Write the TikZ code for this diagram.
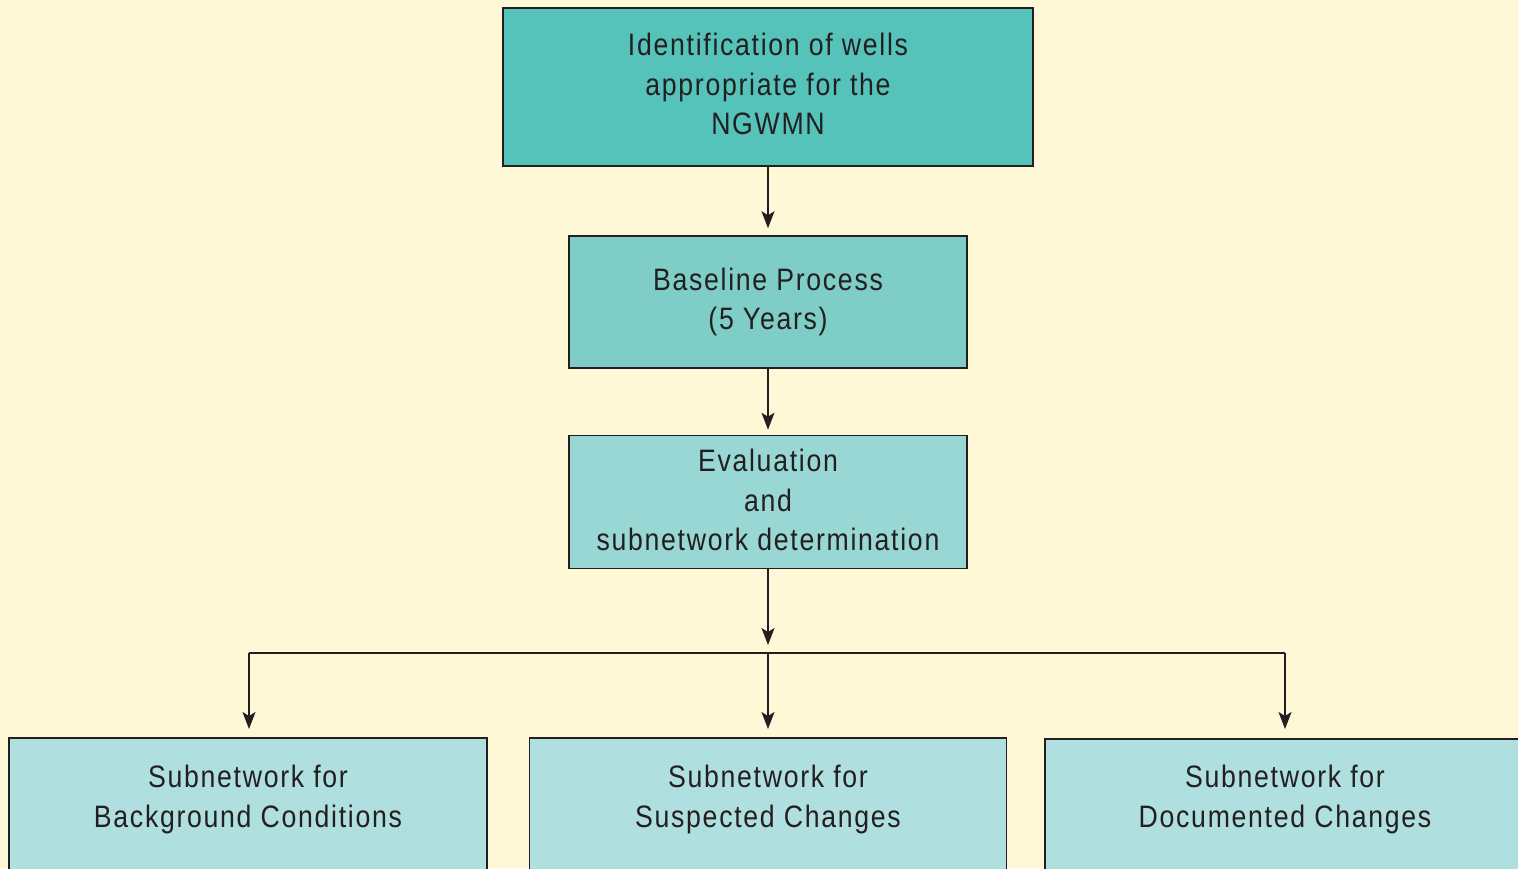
\documentclass[tikz,border=0pt]{standalone}
\usepackage{fontspec}
\setmainfont{Liberation Sans}[FakeStretch=0.86,LetterSpace=5.5]
\usetikzlibrary{positioning,arrows.meta}
\definecolor{paper}{HTML}{FFF8D6}
\definecolor{inkgray}{HTML}{231F20}
\definecolor{tealA}{HTML}{55C3BA}
\definecolor{tealB}{HTML}{7ECDC6}
\definecolor{tealC}{HTML}{98D7D3}
\definecolor{tealD}{HTML}{B0DFDF}
\tikzset{
  flowbox/.style={draw=inkgray, line width=1.6pt, align=center, text=inkgray,
    font=\fontsize{31}{39.5}\selectfont, inner sep=0pt},
  subtext/.style={align=center, text=inkgray, font=\fontsize{31}{39.5}\selectfont, inner sep=0pt},
  flowarrow/.style={draw=inkgray, line width=1.4pt, -{Stealth[length=17pt,width=13pt,inset=4pt]}},
  flowline/.style={draw=inkgray, line width=1.4pt}
}
\begin{document}
\begin{tikzpicture}[x=1pt,y=-1pt]
\useasboundingbox[fill=paper] (0,0) rectangle (1518,868);
\clip (0,0) rectangle (1518,868);
% process boxes
\node[flowbox, fill=tealA, minimum width=530pt, minimum height=158pt] (wells) at (768,87)
  {Identification of wells\\appropriate for the\\NGWMN\rule[-6pt]{0pt}{0pt}};
\node[flowbox, fill=tealB, minimum width=398pt, minimum height=132pt] (baseline) at (768,302)
  {Baseline Process\\(5 Years)};
\node[flowbox, fill=tealC, minimum width=398pt, minimum height=133pt] (evaluation) at (768,502)
  {Evaluation\\and\\subnetwork determination\rule[-4pt]{0pt}{0pt}};
% subnetwork boxes (run off the bottom edge)
\node[flowbox, fill=tealD, minimum width=478pt, minimum height=180pt, anchor=north] (background) at (248,737) {};
\node[flowbox, fill=tealD, minimum width=477pt, minimum height=180pt, anchor=north] (suspected) at (768,737) {};
\node[flowbox, fill=tealD, minimum width=480pt, minimum height=180pt, anchor=north] (documented) at (1285,738) {};
\node[subtext, below=28pt of background.north] {Subnetwork for\\Background Conditions};
\node[subtext, below=28pt of suspected.north] {Subnetwork for\\Suspected Changes};
\node[subtext, below=27pt of documented.north] {Subnetwork for\\Documented Changes};
% connectors
\coordinate (split) at (768,653);
\coordinate (splitleft) at (249,653);
\coordinate (splitright) at (1285,653);
\draw[flowarrow, shorten >=7pt] (wells.south) -- (baseline.north);
\draw[flowarrow, shorten >=5pt] (baseline.south) -- (evaluation.north);
\draw[flowarrow, shorten >=8pt] (evaluation.south) -- (split);
\draw[flowline] (splitleft) -- (splitright);
\draw[flowarrow, shorten >=8pt] (splitleft) -- (background.north -| splitleft);
\draw[flowarrow, shorten >=8pt] (split) -- (suspected.north);
\draw[flowarrow, shorten >=9pt] (splitright) -- (documented.north -| splitright);
\end{tikzpicture}
\end{document}
